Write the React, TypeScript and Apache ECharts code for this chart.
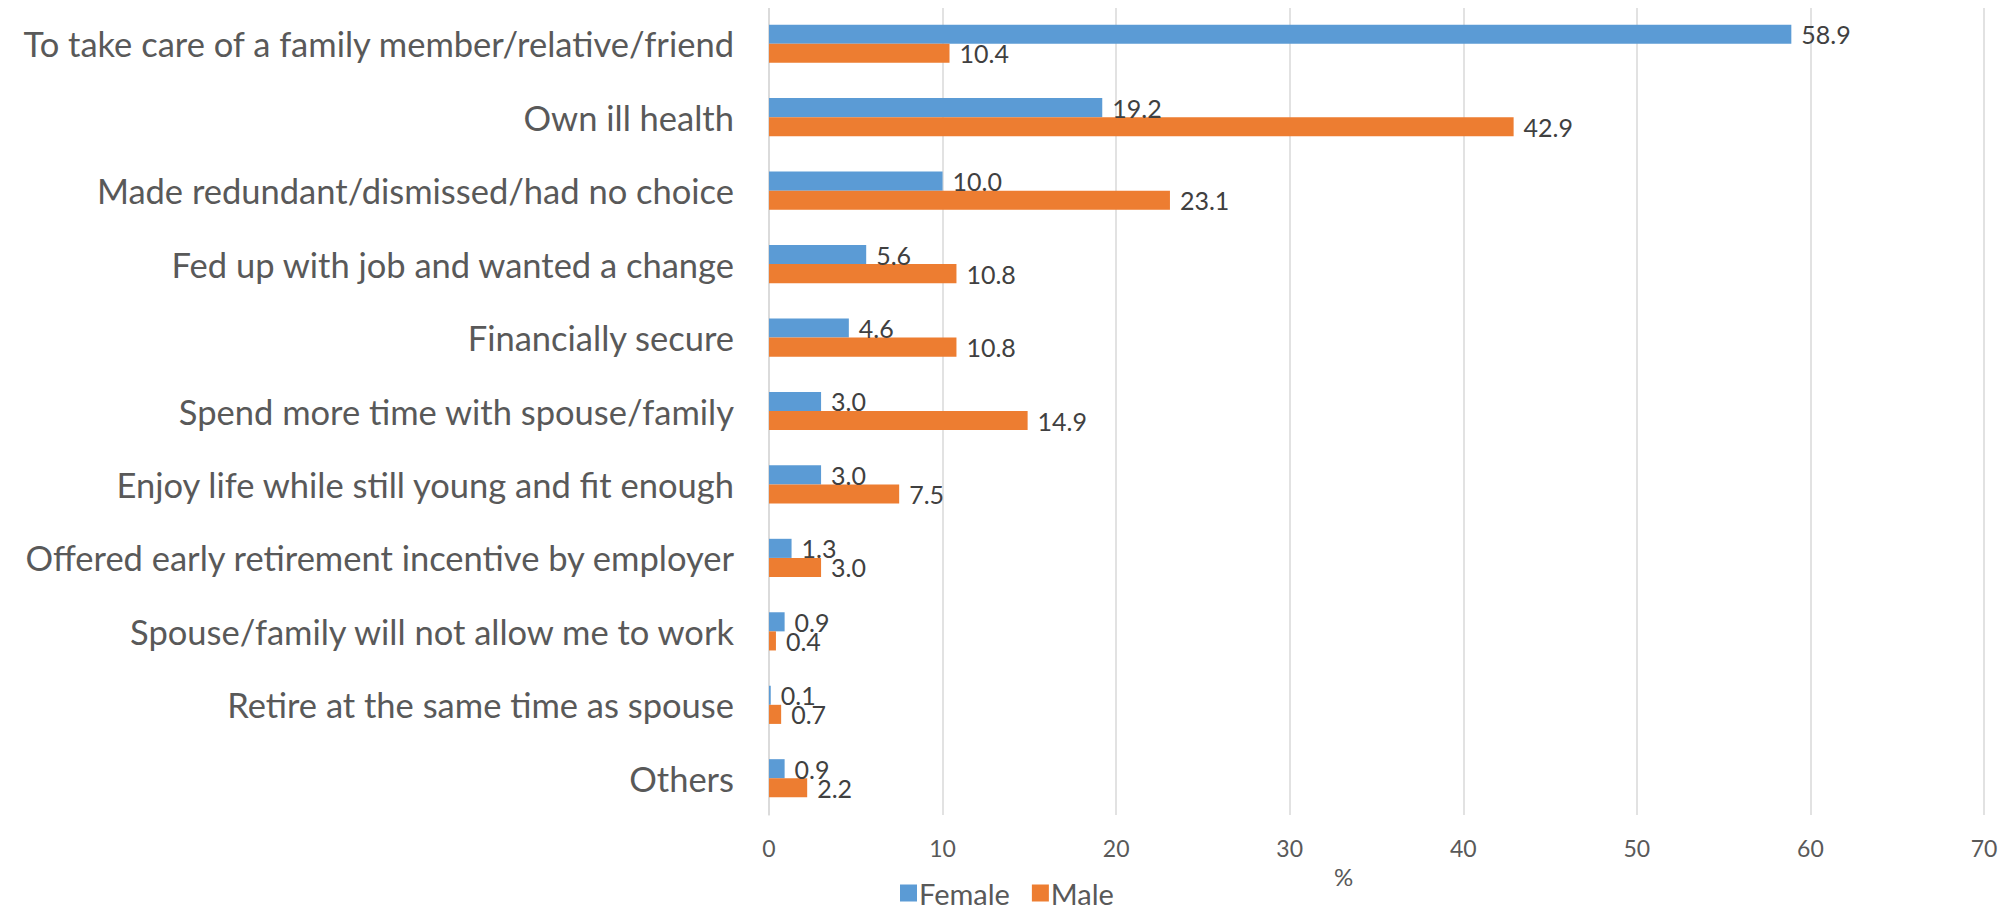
import React, { useEffect, useRef } from "react";
import * as echarts from "echarts";

const categories = [
  "To take care of a family member/relative/friend",
  "Own ill health",
  "Made redundant/dismissed/had no choice",
  "Fed up with job and wanted a change",
  "Financially secure",
  "Spend more time with spouse/family",
  "Enjoy life while still young and fit enough",
  "Offered early retirement incentive by employer",
  "Spouse/family will not allow me to work",
  "Retire at the same time as spouse",
  "Others",
];
const female = [58.9, 19.2, 10.0, 5.6, 4.6, 3.0, 3.0, 1.3, 0.9, 0.1, 0.9];
const male = [10.4, 42.9, 23.1, 10.8, 10.8, 14.9, 7.5, 3.0, 0.4, 0.7, 2.2];
const seriesNames = ["Female", "Male"];
const xTicks = { min: 0, max: 70, interval: 10 };

const FONT = "Lato, 'Open Sans', sans-serif";

export default function App() {
  const ref = useRef<HTMLDivElement>(null);
  useEffect(() => {
    if (!ref.current) return;
    const chart = echarts.init(ref.current, undefined, { renderer: "svg" });
    const labelStyle = {
      show: true,
      position: "right" as const,
      distance: 10,
      color: "#404040",
      fontSize: 25,
      fontFamily: FONT,
      formatter: (p: any) => Number(p.value).toFixed(1),
    };
    chart.setOption({
      animation: false,
      backgroundColor: "#ffffff",
      textStyle: { fontFamily: FONT },
      grid: { left: 769, right: 26, top: 7, bottom: 99, containLabel: false },
      legend: {
        data: seriesNames,
        left: 900,
        top: 878,
        itemWidth: 17,
        itemHeight: 17,
        itemGap: 22,
        icon: "rect",
        padding: 0,
        textStyle: { color: "#595959", fontSize: 29, lineHeight: 30, fontFamily: FONT, padding: [0, 0, 0, -3] },
      },
      xAxis: {
        type: "value",
        min: xTicks.min,
        max: xTicks.max,
        interval: xTicks.interval,
        name: "%",
        nameLocation: "middle",
        nameGap: 49,
        nameTextStyle: { color: "#595959", fontSize: 24, fontFamily: FONT, padding: [0, 66, 0, 0] },
        axisLine: { show: false },
        axisTick: { show: false },
        axisLabel: { color: "#595959", fontSize: 23, fontFamily: FONT, margin: 21 },
        splitLine: { show: true, lineStyle: { color: "#D9D9D9", width: 1.5 } },
      },
      yAxis: {
        type: "category",
        data: categories,
        inverse: true,
        axisLine: { show: true, lineStyle: { color: "#D9D9D9", width: 1.5 } },
        axisTick: { show: false },
        axisLabel: { color: "#595959", fontSize: 34.5, fontFamily: FONT, margin: 35 },
      },
      series: [
        {
          name: seriesNames[0],
          type: "bar",
          data: female,
          barGap: "0%",
          barCategoryGap: "48%",
          itemStyle: { color: "#5B9BD5" },
          label: labelStyle,
        },
        {
          name: seriesNames[1],
          type: "bar",
          data: male,
          barGap: "0%",
          barCategoryGap: "48%",
          itemStyle: { color: "#ED7D31" },
          label: labelStyle,
        },
      ],
    });
    return () => chart.dispose();
  }, []);
  return <div ref={ref} style={{ width: 2010, height: 914, margin: -8 }} />;
}
